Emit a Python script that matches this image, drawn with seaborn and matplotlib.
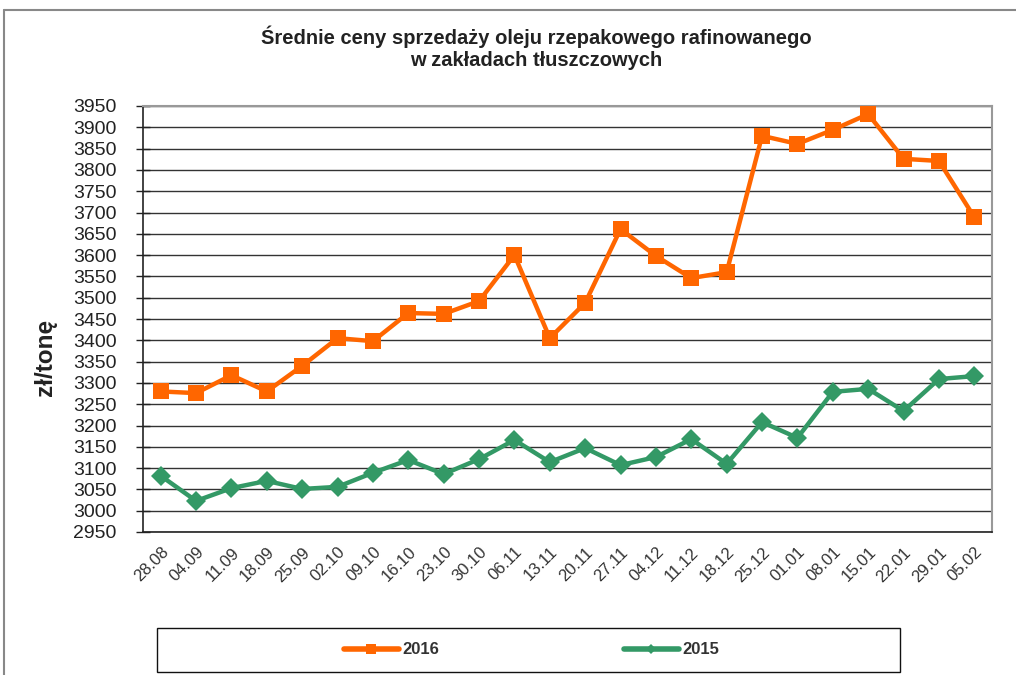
import numpy as np
import pandas as pd
import matplotlib
matplotlib.use('Agg')
import matplotlib.pyplot as plt
from matplotlib.lines import Line2D
from matplotlib.patches import Rectangle
import seaborn as sns

# data
dates = ['28.08', '04.09', '11.09', '18.09', '25.09', '02.10', '09.10', '16.10',
         '23.10', '30.10', '06.11', '13.11', '20.11', '27.11', '04.12', '11.12',
         '18.12', '25.12', '01.01', '08.01', '15.01', '22.01', '29.01', '05.02']
prices_2016 = [3280, 3276, 3318, 3280, 3340, 3405, 3398, 3464, 3462, 3492, 3600, 3405,
               3488, 3661, 3598, 3546, 3560, 3880, 3861, 3894, 3931, 3826, 3821, 3689]
prices_2015 = [3082, 3023, 3053, 3070, 3051, 3056, 3089, 3119, 3086, 3121, 3166, 3114,
               3147, 3107, 3126, 3168, 3110, 3208, 3171, 3279, 3286, 3234, 3309, 3316]
yticks = list(range(2950, 3951, 50))

colors = {'2016': '#FF6600', '2015': '#339966'}

sns.set_style('white')
plt.rcParams['font.family'] = ['Liberation Sans', 'DejaVu Sans']

df = pd.DataFrame({'x': np.arange(len(dates)), '2016': prices_2016, '2015': prices_2015})

fig = plt.figure(figsize=(10.16, 6.75), dpi=100)
ax = fig.add_axes([143/1016, 1 - 532/675, 849/1016, 426/675])

# gridlines behind the series
for v in yticks:
    ax.axhline(v, color='#333333', lw=1.0, zorder=0)

sns.lineplot(data=df, x='x', y='2016', ax=ax, color=colors['2016'], lw=3.2,
             marker='s', markersize=11, markeredgewidth=0, sort=False, label='2016', zorder=3)
sns.lineplot(data=df, x='x', y='2015', ax=ax, color=colors['2015'], lw=3.2,
             marker='D', markersize=10, markeredgewidth=0, sort=False, label='2015', zorder=3)

ax.set_xlim(-0.5, len(dates) - 0.5)
ax.set_ylim(2950, 3950)
ax.set_yticks(yticks)
ax.set_yticklabels([str(v) for v in yticks], fontsize=14, color='#222222')
ax.set_xticks(np.arange(len(dates)))
ax.set_xticklabels(dates, rotation=45, ha='right', rotation_mode='anchor',
                   fontsize=12, color='#333333')
ax.set_xticks(np.arange(-0.5, len(dates)), minor=True)
ax.tick_params(axis='x', which='major', length=0, pad=9)
ax.tick_params(axis='x', which='minor', length=5, width=1, color='#222222', direction='out')
ax.tick_params(axis='y', length=10, width=1, color='#222222', direction='inout', left=True, pad=14)
ax.set_xlabel('')
ax.set_ylabel('zł/tonę', fontsize=17.5, fontweight='bold', color='#222222')
ax.yaxis.set_label_coords(-0.101, 0.41)

for side in ['left', 'bottom']:
    ax.spines[side].set_color('#222222')
    ax.spines[side].set_linewidth(1.2)
for side in ['top', 'right']:
    ax.spines[side].set_color('#999999')
    ax.spines[side].set_linewidth(1.5)
ax.legend_.remove()

fig.text(0.528, 0.929, 'Średnie ceny sprzedaży oleju rzepakowego rafinowanego\nw zakładach tłuszczowych',
         ha='center', va='center', fontsize=14.5, fontweight='bold', color='#222222', linespacing=1.2)

# outer chart frame
fig.add_artist(Line2D([4/1016, 4/1016], [0, 1 - 10/675], color='#888888', lw=1.5))
fig.add_artist(Line2D([4/1016, 1], [1 - 10/675, 1 - 10/675], color='#888888', lw=1.5))

# legend box
fig.add_artist(Rectangle((157/1016, 3/675), 743/1016, 44/675, fill=False,
                         edgecolor='#111111', lw=1.0, transform=fig.transFigure))
handles = [Line2D([], [], color=colors['2016'], lw=4, marker='s', markersize=7,
                  markeredgewidth=0, solid_capstyle='round'),
           Line2D([], [], color=colors['2015'], lw=4, marker='D', markersize=5,
                  markeredgewidth=0, solid_capstyle='round')]
leg = fig.legend(handles, ['2016', '2015'], loc='center', bbox_to_anchor=(0.523, 25/675),
                 ncol=2, frameon=False, handlelength=3.3, columnspacing=11.1, handletextpad=0.2,
                 prop={'weight': 'bold', 'size': 12})
for t in leg.get_texts():
    t.set_color('#333333')

fig.savefig('out.png', dpi=100)
